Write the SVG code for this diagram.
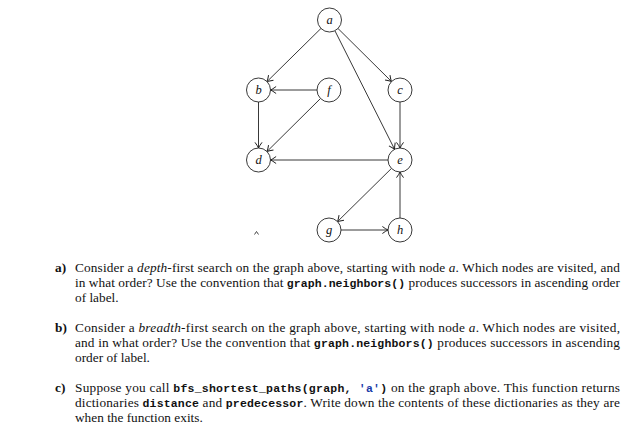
<svg xmlns="http://www.w3.org/2000/svg" width="638" height="440" viewBox="0 0 638 440">
<defs>
<marker id="arr" markerUnits="userSpaceOnUse" markerWidth="10" markerHeight="10" viewBox="-6 -4 8 8" refX="0" refY="0" orient="auto">
<path d="M-4.5,-2.8 Q-1.5,-0.6 0,0 Q-1.5,0.6 -4.5,2.8" fill="none" stroke="#222" stroke-width="0.8"/>
</marker>
<style>
.n{fill:#fff;stroke:#222;stroke-width:0.9}
.nl{font-family:"Liberation Serif",serif;font-style:italic;font-size:12.5px;fill:#111;text-anchor:middle}
.e{stroke:#222;stroke-width:0.9;fill:none;marker-end:url(#arr)}
.t{font-family:"Liberation Serif",serif;font-size:13.3px;fill:#111}
.lb{font-weight:bold}
.i{font-style:italic}
.m{font-family:"Liberation Mono",monospace;font-weight:bold;font-size:11.5px}
.blue{fill:#1a3aa8}
</style>
</defs>
<rect width="638" height="440" fill="#fff"/>
<g id="connectors">
<line class="e" x1="321" y1="28.4" x2="267" y2="81.6"/>
<line class="e" x1="338" y1="28.5" x2="391.5" y2="81.5"/>
<line class="e" x1="334.9" y1="30.7" x2="394.6" y2="149.3"/>
<line class="e" x1="317" y1="90" x2="270.5" y2="90"/>
<line class="e" x1="320.5" y1="98.5" x2="267" y2="151.5"/>
<line class="e" x1="258.5" y1="102" x2="258.5" y2="148"/>
<line class="e" x1="400" y1="102" x2="400" y2="148"/>
<line class="e" x1="388" y1="160" x2="270.5" y2="160"/>
<line class="e" x1="391.5" y1="168.4" x2="337.5" y2="221.6"/>
<line class="e" x1="341" y1="230" x2="388" y2="230"/>
<line class="e" x1="400" y1="218" x2="400" y2="172"/>
</g>
<g id="node-a"><circle class="n" cx="329.5" cy="20" r="12"/><text class="nl" x="329.5" y="24">a</text></g>
<g id="node-b"><circle class="n" cx="258.5" cy="90" r="12"/><text class="nl" x="258.5" y="94">b</text></g>
<g id="node-f"><circle class="n" cx="329" cy="90" r="12"/><text class="nl" x="329" y="94">f</text></g>
<g id="node-c"><circle class="n" cx="400" cy="90" r="12"/><text class="nl" x="400" y="94">c</text></g>
<g id="node-d"><circle class="n" cx="258.5" cy="160" r="12"/><text class="nl" x="258.5" y="164">d</text></g>
<g id="node-e"><circle class="n" cx="400" cy="160" r="12"/><text class="nl" x="400" y="164">e</text></g>
<g id="node-g"><circle class="n" cx="329" cy="230" r="12"/><text class="nl" x="329" y="234">g</text></g>
<g id="node-h"><circle class="n" cx="400" cy="230" r="12"/><text class="nl" x="400" y="234">h</text></g>
<path d="M254.5,234.5 L256.5,231.5 L258.5,234.5" fill="none" stroke="#333" stroke-width="0.9"/>
<g id="questions">
<text class="t lb" x="55" y="272">a)</text>
<text class="t" x="75" y="272" textLength="545" lengthAdjust="spacing">Consider a <tspan class="i">depth</tspan>-first search on the graph above, starting with node <tspan class="i">a</tspan>. Which nodes are visited, and</text>
<text class="t" x="75" y="287" textLength="545" lengthAdjust="spacing">in what order? Use the convention that <tspan class="m">graph.neighbors()</tspan> produces successors in ascending order</text>
<text class="t" x="75" y="302">of label.</text>
<text class="t lb" x="55" y="332">b)</text>
<text class="t" x="75" y="332" textLength="545" lengthAdjust="spacing">Consider a <tspan class="i">breadth</tspan>-first search on the graph above, starting with node <tspan class="i">a</tspan>. Which nodes are visited,</text>
<text class="t" x="75" y="347" textLength="545" lengthAdjust="spacing">and in what order? Use the convention that <tspan class="m">graph.neighbors()</tspan> produces successors in ascending</text>
<text class="t" x="75" y="362">order of label.</text>
<text class="t lb" x="55" y="392">c)</text>
<text class="t" x="75" y="392" textLength="545" lengthAdjust="spacing">Suppose you call <tspan class="m">bfs_shortest_paths(graph, </tspan><tspan class="m blue">'a'</tspan><tspan class="m">)</tspan> on the graph above.  This function returns</text>
<text class="t" x="75" y="407" textLength="545" lengthAdjust="spacing">dictionaries <tspan class="m">distance</tspan> and <tspan class="m">predecessor</tspan>. Write down the contents of these dictionaries as they are</text>
<text class="t" x="75" y="422">when the function exits.</text>
</g>
</svg>
